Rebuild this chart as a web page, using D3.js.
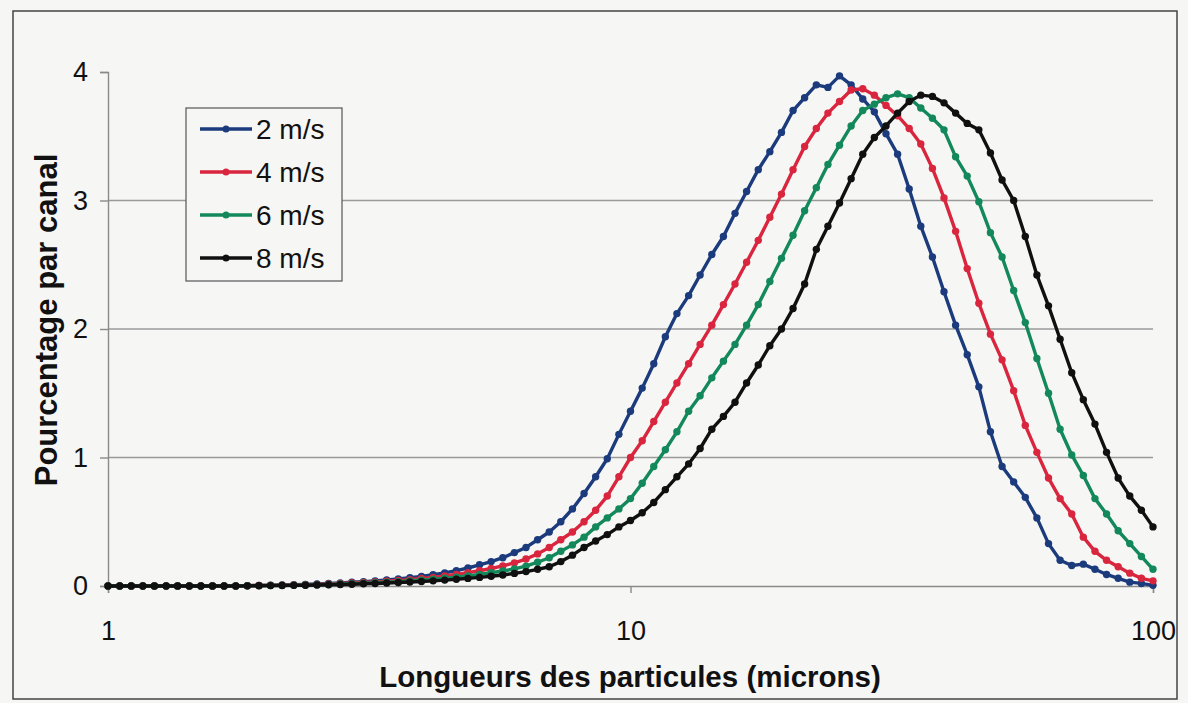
<!DOCTYPE html>
<html>
<head>
<meta charset="utf-8">
<script src="https://cdn.jsdelivr.net/npm/d3@7"></script>
<style>
  html, body { margin: 0; padding: 0; background: #f6f6f5; }
  svg { display: block; }
  text { font-family: "Liberation Sans", Arial, sans-serif; fill: #111; }
</style>
</head>
<body>
<svg id="chart" width="1188" height="703"></svg>
<script>
// Channel centres (particle length, microns), 45 channels per decade
const channels = [
  1.000, 1.053, 1.108, 1.166, 1.227, 1.292, 1.359, 1.431, 1.506, 1.585,
  1.668, 1.756, 1.848, 1.945, 2.047, 2.154, 2.268, 2.387, 2.512, 2.644,
  2.783, 2.929, 3.083, 3.245, 3.415, 3.594, 3.783, 3.981, 4.190, 4.410,
  4.642, 4.885, 5.142, 5.412, 5.696, 5.995, 6.310, 6.641, 6.990, 7.356,
  7.743, 8.149, 8.577, 9.027, 9.501, 10.00, 10.53, 11.08, 11.66, 12.27,
  12.92, 13.59, 14.31, 15.06, 15.85, 16.68, 17.56, 18.48, 19.45, 20.47,
  21.54, 22.68, 23.87, 25.12, 26.44, 27.83, 29.29, 30.83, 32.45, 34.15,
  35.94, 37.83, 39.81, 41.90, 44.10, 46.42, 48.85, 51.42, 54.12, 56.96,
  59.95, 63.10, 66.41, 69.90, 73.56, 77.43, 81.49, 85.77, 90.27, 95.01,
  100.0
];

// Percentage per channel for each air velocity
const v2 = [
  0, 0, 0, 0, 0, 0, 0, 0, 0, 0,
  0, 0, 0.003, 0.005, 0.006, 0.008, 0.010, 0.013, 0.016, 0.020,
  0.024, 0.029, 0.034, 0.040, 0.047, 0.055, 0.064, 0.075, 0.088, 0.102,
  0.12, 0.14, 0.165, 0.19, 0.22, 0.26, 0.30, 0.36, 0.42, 0.50,
  0.60, 0.72, 0.85, 0.99, 1.18, 1.36, 1.54, 1.73, 1.94, 2.12,
  2.26, 2.42, 2.58, 2.72, 2.90, 3.07, 3.24, 3.38, 3.53, 3.70,
  3.80, 3.90, 3.88, 3.97, 3.90, 3.79, 3.69, 3.52, 3.36, 3.09,
  2.80, 2.56, 2.29, 2.03, 1.80, 1.55, 1.20, 0.93, 0.81, 0.69,
  0.53, 0.33, 0.20, 0.16, 0.17, 0.13, 0.09, 0.06, 0.03, 0.02,
  0.005
];
const v4 = [
  0, 0, 0, 0, 0, 0, 0, 0, 0, 0,
  0, 0, 0.002, 0.004, 0.005, 0.006, 0.008, 0.010, 0.013, 0.016,
  0.019, 0.023, 0.027, 0.032, 0.037, 0.043, 0.050, 0.058, 0.067, 0.078,
  0.090, 0.104, 0.119, 0.136, 0.156, 0.18, 0.21, 0.25, 0.30, 0.36,
  0.42, 0.50, 0.59, 0.70, 0.85, 1.00, 1.13, 1.28, 1.43, 1.58,
  1.73, 1.88, 2.03, 2.19, 2.35, 2.52, 2.69, 2.87, 3.05, 3.24,
  3.42, 3.56, 3.68, 3.77, 3.86, 3.87, 3.82, 3.74, 3.66, 3.56,
  3.44, 3.25, 3.02, 2.76, 2.47, 2.20, 1.96, 1.76, 1.52, 1.25,
  1.04, 0.84, 0.68, 0.56, 0.38, 0.27, 0.20, 0.15, 0.10, 0.06,
  0.04
];
const v6 = [
  0, 0, 0, 0, 0, 0, 0, 0, 0, 0,
  0, 0, 0.002, 0.003, 0.004, 0.005, 0.006, 0.008, 0.010, 0.012,
  0.015, 0.018, 0.021, 0.025, 0.029, 0.034, 0.039, 0.045, 0.052, 0.060,
  0.069, 0.079, 0.090, 0.103, 0.117, 0.133, 0.155, 0.185, 0.22, 0.27,
  0.32, 0.38, 0.46, 0.53, 0.60, 0.68, 0.80, 0.93, 1.06, 1.20,
  1.36, 1.48, 1.62, 1.75, 1.88, 2.03, 2.19, 2.37, 2.55, 2.73,
  2.92, 3.10, 3.28, 3.43, 3.58, 3.70, 3.75, 3.80, 3.83, 3.80,
  3.72, 3.64, 3.55, 3.34, 3.19, 2.99, 2.75, 2.56, 2.30, 2.05,
  1.77, 1.50, 1.22, 1.02, 0.86, 0.68, 0.56, 0.43, 0.33, 0.23,
  0.13
];
const v8 = [
  0, 0, 0, 0, 0, 0, 0, 0, 0, 0,
  0, 0, 0.001, 0.002, 0.003, 0.004, 0.005, 0.006, 0.008, 0.010,
  0.012, 0.014, 0.017, 0.020, 0.023, 0.027, 0.031, 0.035, 0.040, 0.046,
  0.052, 0.059, 0.067, 0.076, 0.086, 0.098, 0.112, 0.13, 0.15, 0.19,
  0.24, 0.30, 0.35, 0.40, 0.46, 0.51, 0.57, 0.65, 0.75, 0.85,
  0.95, 1.07, 1.22, 1.32, 1.43, 1.58, 1.72, 1.87, 2.00, 2.16,
  2.35, 2.62, 2.80, 2.98, 3.17, 3.36, 3.49, 3.58, 3.68, 3.77,
  3.82, 3.81, 3.76, 3.68, 3.60, 3.55, 3.37, 3.16, 3.00, 2.72,
  2.42, 2.18, 1.92, 1.66, 1.45, 1.26, 1.04, 0.84, 0.70, 0.59,
  0.46
];

const seriesNames = ["2 m/s", "4 m/s", "6 m/s", "8 m/s"];
const seriesValues = [v2, v4, v6, v8];
const seriesColors = ["#1b3b7c", "#d9263e", "#13885a", "#101010"];

const yTicks = [0, 1, 2, 3, 4];
const gridValues = [1, 2, 3];
const xTicks = [1, 10, 100];
const xTitle = "Longueurs des particules (microns)";
const yTitle = "Pourcentage par canal";

const svg = d3.select("#chart");

// frame around the whole chart
svg.append("rect")
  .attr("x", 13).attr("y", 11)
  .attr("width", 1164).attr("height", 688)
  .attr("fill", "none").attr("stroke", "#444").attr("stroke-width", 1.5);

const x = d3.scaleLog().domain([1, 100]).range([108, 1153]);
const y = d3.scaleLinear().domain([0, 4]).range([586, 72]);

// horizontal gridlines
svg.append("g").selectAll("line").data(gridValues).join("line")
  .attr("x1", x(1)).attr("x2", x(100))
  .attr("y1", d => y(d)).attr("y2", d => y(d))
  .attr("stroke", "#9a9a9a").attr("stroke-width", 1.4);

// y axis
const yAxis = svg.append("g")
  .attr("transform", `translate(${x(1)},0)`)
  .call(d3.axisLeft(y).tickValues(yTicks).tickFormat(d3.format("d"))
    .tickSize(8).tickPadding(12));
yAxis.select(".domain").attr("stroke", "#8a8a8a").attr("stroke-width", 1.4);
yAxis.selectAll(".tick line").attr("stroke", "#8a8a8a").attr("stroke-width", 1.4);
yAxis.selectAll(".tick text")
  .attr("font-size", 27).attr("font-family", "Liberation Sans, Arial, sans-serif")
  .attr("fill", "#111");

// x axis
const xAxis = svg.append("g")
  .attr("transform", `translate(0,${y(0)})`)
  .call(d3.axisBottom(x).tickValues(xTicks).tickFormat(d3.format("d"))
    .tickSize(7).tickPadding(28));
xAxis.select(".domain").attr("stroke", "#8a8a8a").attr("stroke-width", 1.4);
xAxis.selectAll(".tick line").attr("stroke", "#8a8a8a").attr("stroke-width", 1.4);
xAxis.selectAll(".tick text")
  .attr("font-size", 27).attr("font-family", "Liberation Sans, Arial, sans-serif")
  .attr("fill", "#111");

// axis titles
svg.append("text")
  .attr("x", 630).attr("y", 687)
  .attr("text-anchor", "middle")
  .attr("font-size", 29.5).attr("font-weight", "bold")
  .text(xTitle);
svg.append("text")
  .attr("transform", "translate(57,320) rotate(-90)")
  .attr("text-anchor", "middle")
  .attr("font-size", 31).attr("font-weight", "bold")
  .text(yTitle);

// series lines and markers
const line = d3.line()
  .x((d, i) => x(channels[i]))
  .y(d => y(d));

seriesValues.forEach((vals, s) => {
  const g = svg.append("g");
  g.append("path")
    .datum(vals)
    .attr("d", line)
    .attr("fill", "none")
    .attr("stroke", seriesColors[s])
    .attr("stroke-width", 3.4)
    .attr("stroke-linejoin", "round");
  g.selectAll("circle").data(vals).join("circle")
    .attr("cx", (d, i) => x(channels[i]))
    .attr("cy", d => y(d))
    .attr("r", 3.7)
    .attr("fill", seriesColors[s]);
});

// legend
const legend = svg.append("g");
legend.append("rect")
  .attr("x", 186).attr("y", 108)
  .attr("width", 156).attr("height", 173)
  .attr("fill", "#f6f6f5").attr("stroke", "#555").attr("stroke-width", 1.2);
const rowY = d3.scalePoint().domain(seriesNames).range([129, 258]);
seriesNames.forEach((name, s) => {
  const yy = rowY(name);
  legend.append("line")
    .attr("x1", 200).attr("x2", 252)
    .attr("y1", yy).attr("y2", yy)
    .attr("stroke", seriesColors[s]).attr("stroke-width", 3.4);
  legend.append("circle")
    .attr("cx", 226).attr("cy", yy).attr("r", 3.5)
    .attr("fill", seriesColors[s]);
  legend.append("text")
    .attr("x", 256).attr("y", yy)
    .attr("dy", "0.35em")
    .attr("font-size", 28)
    .text(name);
});
</script>
</body>
</html>
